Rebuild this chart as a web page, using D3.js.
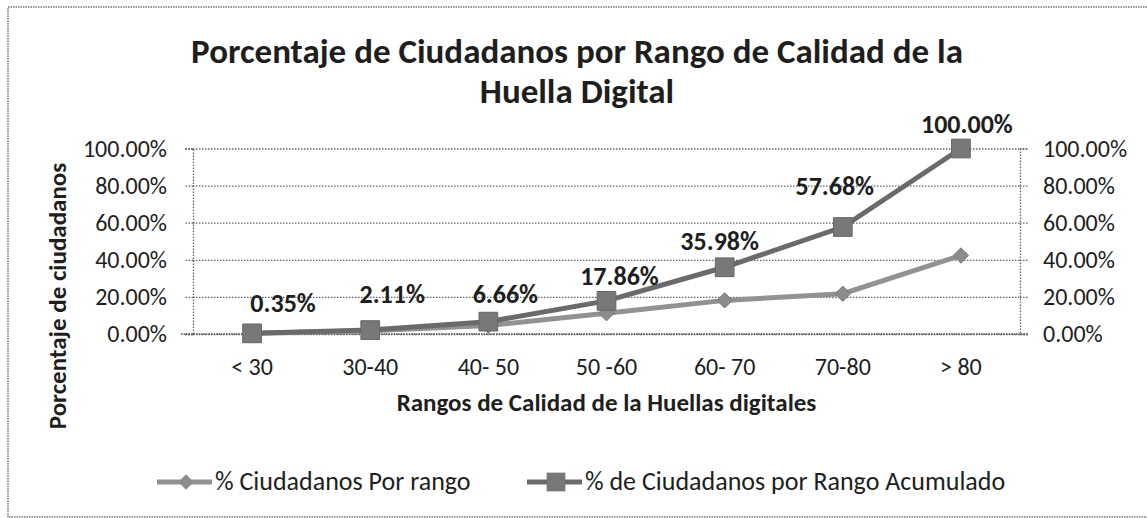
<!DOCTYPE html>
<html>
<head>
<meta charset="utf-8">
<script src="https://cdn.jsdelivr.net/npm/d3@7"></script>
<style>
  body { margin: 0; background: #fff; }
  text { font-family: Carlito, Calibri, Lato, sans-serif; fill: #1e1e1e; }
</style>
</head>
<body>
<script>
const width = 1147, height = 518;

// data
const categories = ["< 30", "30-40", "40- 50", "50 -60", "60- 70", "70-80", "> 80"];
const porRango = [0.0035, 0.0176, 0.0455, 0.1120, 0.1812, 0.2170, 0.4232];
const acumulado = [0.0035, 0.0211, 0.0666, 0.1786, 0.3598, 0.5768, 1.0];
const yTicks = [0, 0.2, 0.4, 0.6, 0.8, 1.0];
const titleLines = ["Porcentaje de Ciudadanos por Rango de Calidad de la", "Huella Digital"];
const seriesNames = ["% Ciudadanos Por rango", "% de Ciudadanos por Rango Acumulado"];

// label nudges (dx, dy from the point), as placed in the original
const labelNudge = [[31, -21], [22, -27], [17, -19], [13, -16], [-5, -17], [-8, -32], [6, -16]];

const plot = { left: 193, right: 1020, top: 148.5, bottom: 334 };

const svg = d3.select("body").append("svg")
  .attr("width", width)
  .attr("height", height);

// chart border
svg.append("rect")
  .attr("x", 8).attr("y", 7)
  .attr("width", 1150).attr("height", 510)
  .attr("fill", "none")
  .attr("stroke", "#777")
  .attr("stroke-width", 1.5)
  .attr("stroke-dasharray", "1.5,1");

const x = d3.scaleBand().domain(categories).range([plot.left, plot.right]);
const y = d3.scaleLinear().domain([0, 1]).range([plot.bottom, plot.top]);
const fmt = d3.format(".2%");

// gridlines
svg.append("g")
  .attr("transform", `translate(${plot.left},0)`)
  .call(d3.axisLeft(y).tickValues(yTicks).tickSize(-(plot.right - plot.left)).tickFormat(""))
  .call(g => g.select(".domain").remove())
  .call(g => g.selectAll("line")
    .attr("stroke", "#666")
    .attr("stroke-width", 1.3)
    .attr("stroke-dasharray", "1.5,1.5"));

// left axis
svg.append("g")
  .attr("transform", `translate(${plot.left},0)`)
  .call(d3.axisLeft(y).tickValues(yTicks).tickSize(8).tickPadding(18).tickFormat(fmt))
  .call(g => g.selectAll("line, .domain")
    .attr("stroke", "#666")
    .attr("stroke-width", 1.3)
    .attr("stroke-dasharray", "1.5,1.5"))
  .call(g => g.selectAll("text")
    .attr("font-size", 24)
    .attr("fill", "#1e1e1e"));

// right axis
svg.append("g")
  .attr("transform", `translate(${plot.right},0)`)
  .call(d3.axisRight(y).tickValues(yTicks).tickSize(8).tickPadding(15).tickFormat(fmt))
  .call(g => g.selectAll("line, .domain")
    .attr("stroke", "#666")
    .attr("stroke-width", 1.3)
    .attr("stroke-dasharray", "1.5,1.5"))
  .call(g => g.selectAll("text")
    .attr("font-size", 24)
    .attr("fill", "#1e1e1e"));

// x axis
svg.append("g")
  .attr("transform", `translate(0,${plot.bottom})`)
  .call(d3.axisBottom(x).tickSize(0).tickPadding(24))
  .call(g => g.select(".domain")
    .attr("d", `M${plot.left - 12},0H${plot.right + 8}`)
    .attr("stroke", "#555")
    .attr("stroke-width", 1.5)
    .attr("stroke-dasharray", "1.5,1"))
  .call(g => g.selectAll("text")
    .attr("font-size", 24)
    .attr("fill", "#1e1e1e"));

// titles
svg.append("text")
  .attr("text-anchor", "middle")
  .attr("font-size", 35).attr("font-weight", "bold")
  .selectAll("tspan")
  .data(titleLines)
  .join("tspan")
    .attr("x", 577)
    .attr("y", (d, i) => 63 + i * 40)
    .text(d => d);

svg.append("text")
  .attr("x", (plot.left + plot.right) / 2).attr("y", 411)
  .attr("text-anchor", "middle")
  .attr("font-size", 25).attr("font-weight", "bold")
  .text("Rangos de Calidad de la Huellas digitales");

svg.append("text")
  .attr("transform", "translate(66,296) rotate(-90)")
  .attr("text-anchor", "middle")
  .attr("font-size", 25).attr("font-weight", "bold")
  .text("Porcentaje de ciudadanos");

// lines
const cx = d => x(d) + x.bandwidth() / 2;
const line = d3.line().x(d => cx(d.c)).y(d => y(d.v));
const rows1 = categories.map((c, i) => ({ c, v: porRango[i] }));
const rows2 = categories.map((c, i) => ({ c, v: acumulado[i] }));

const diamond = d3.symbol().type(d3.symbolDiamond2).size(150);
const square = d3.symbol().type(d3.symbolSquare).size(350);

svg.append("path")
  .datum(rows1)
  .attr("d", line)
  .attr("fill", "none")
  .attr("stroke", "#929292")
  .attr("stroke-width", 5);

svg.append("g").selectAll("path")
  .data(rows1)
  .join("path")
    .attr("transform", d => `translate(${cx(d.c)},${y(d.v)})`)
    .attr("d", diamond)
    .attr("fill", "#8c8c8c")
    .attr("stroke", "#7a7a7a");

svg.append("path")
  .datum(rows2)
  .attr("d", line)
  .attr("fill", "none")
  .attr("stroke", "#6a6a6a")
  .attr("stroke-width", 5);

svg.append("g").selectAll("path")
  .data(rows2)
  .join("path")
    .attr("transform", d => `translate(${cx(d.c)},${y(d.v)})`)
    .attr("d", square)
    .attr("fill", "#787878")
    .attr("stroke", "#666");

// data labels
svg.append("g").selectAll("text")
  .data(rows2)
  .join("text")
    .attr("x", (d, i) => cx(d.c) + labelNudge[i][0])
    .attr("y", (d, i) => y(d.v) + labelNudge[i][1])
    .attr("text-anchor", "middle")
    .attr("font-size", 26).attr("font-weight", "bold")
    .text(d => fmt(d.v));

// legend
const legend = svg.append("g").attr("transform", "translate(0,482)");
const items = [
  { name: seriesNames[0], x0: 157, sym: diamond, fill: "#8c8c8c", stroke: "#929292" },
  { name: seriesNames[1], x0: 527, sym: square, fill: "#787878", stroke: "#6a6a6a" }
];
const li = legend.selectAll("g").data(items).join("g")
  .attr("transform", d => `translate(${d.x0},0)`);
li.append("line")
  .attr("x1", 0).attr("x2", 55)
  .attr("stroke", d => d.stroke).attr("stroke-width", 5);
li.append("path")
  .attr("transform", "translate(29,0)")
  .attr("d", d => d.sym())
  .attr("fill", d => d.fill);
li.append("text")
  .attr("x", 58).attr("y", 8)
  .attr("font-size", 26)
  .text(d => d.name);
</script>
</body>
</html>
